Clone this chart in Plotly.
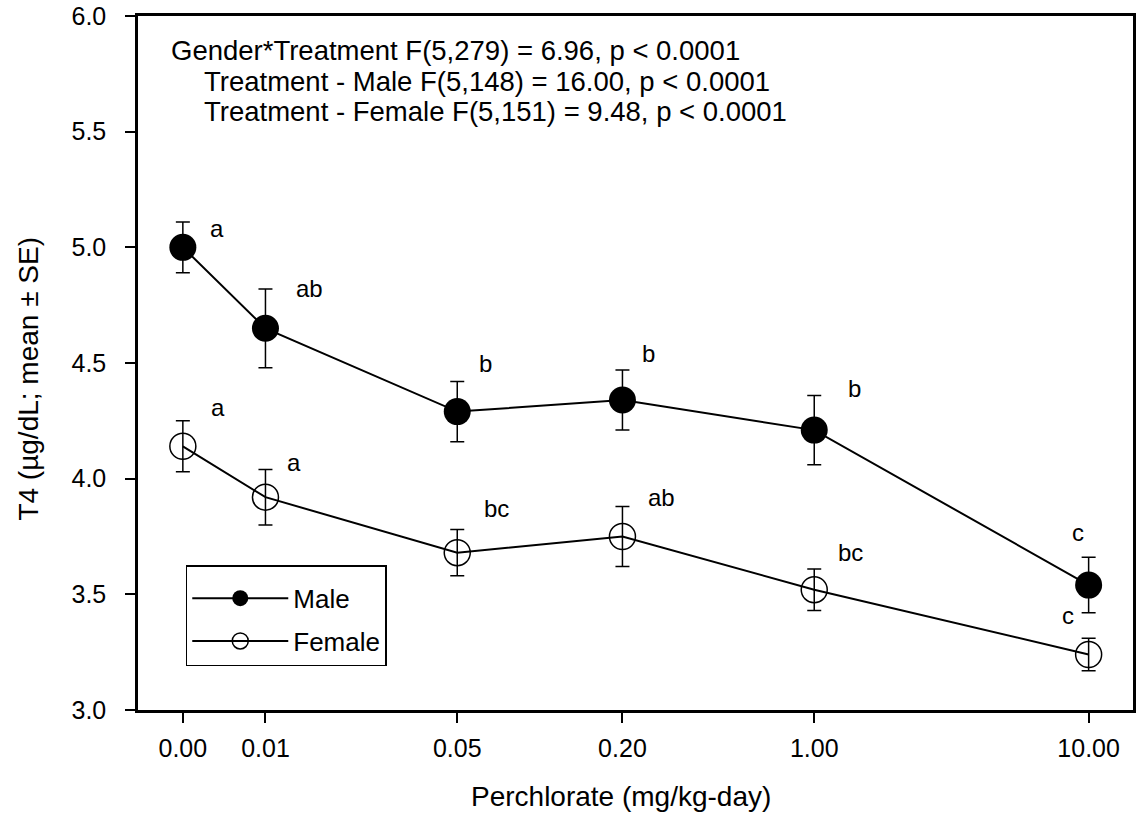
import numpy as np
import plotly.graph_objects as go

# ---- data ----
dose_labels = ["0.00", "0.01", "0.05", "0.20", "1.00", "10.00"]
# control (0.00) plotted at half the lowest dose on the log axis
dose_pos = [0.005, 0.01, 0.05, 0.2, 1.0, 10.0]

male_mean = [5.00, 4.65, 4.29, 4.34, 4.21, 3.54]
male_se = [0.11, 0.17, 0.13, 0.13, 0.15, 0.12]
female_mean = [4.14, 3.92, 3.68, 3.75, 3.52, 3.24]
female_se = [0.11, 0.12, 0.10, 0.13, 0.09, 0.07]

male_letters = ["a", "ab", "b", "b", "b", "c"]
female_letters = ["a", "a", "bc", "ab", "bc", "c"]

stats_lines = [
    "Gender*Treatment F(5,279) = 6.96, p < 0.0001",
    "Treatment - Male F(5,148) = 16.00, p < 0.0001",
    "Treatment - Female F(5,151) = 9.48, p < 0.0001",
]
x_title = "Perchlorate (mg/kg-day)"
y_title = "T4 (µg/dL; mean ± SE)"

# ---- style (pixel offsets of the letters from their points) ----
male_off = [(34, 19), (44, 40), (28, 48), (26, 47), (40, 42), (-11, 53)]
female_off = [(35, 39), (29, 35), (39, 44), (39, 39), (36, 37), (-21, 39)]

FONT = "Arial, Liberation Sans, sans-serif"

fig = go.Figure()
fig.add_trace(go.Scatter(
    x=dose_pos, y=male_mean, name="Male", mode="lines+markers", legendgroup="m",
    line=dict(color="black", width=2),
    marker=dict(symbol="circle", size=27, color="black"),
    error_y=dict(type="data", array=male_se, color="black", thickness=1.5, width=7),
))
fig.add_trace(go.Scatter(
    x=dose_pos, y=female_mean, name="Female", mode="lines+markers", legendgroup="f",
    line=dict(color="black", width=2),
    marker=dict(symbol="circle-open", size=26, color="black", line=dict(width=1.5, color="black")),
    error_y=dict(type="data", array=female_se, color="black", thickness=1.5, width=7),
))

annotations = []
for xs, ys, labs, offs in [(dose_pos, male_mean, male_letters, male_off),
                           (dose_pos, female_mean, female_letters, female_off)]:
    for xv, yv, lab, (dx, dy) in zip(xs, ys, labs, offs):
        annotations.append(dict(
            x=np.log10(xv), y=yv, xref="x", yref="y", text=lab, showarrow=False,
            xshift=dx, yshift=dy, font=dict(family=FONT, size=24, color="black"),
            xanchor="center", yanchor="middle"))

stat_pos = [(0.031, 0.951), (0.064, 0.905), (0.064, 0.862)]
for txt, (px, py) in zip(stats_lines, stat_pos):
    annotations.append(dict(
        x=px, y=py, xref="paper", yref="paper", text=txt, showarrow=False,
        xanchor="left", yanchor="middle",
        font=dict(family=FONT, size=27.5, color="black")))

annotations.append(dict(
    x=0.485, y=-0.125, xref="paper", yref="paper", text=x_title, showarrow=False,
    xanchor="center", yanchor="middle", font=dict(family=FONT, size=28, color="black")))
annotations.append(dict(
    x=-0.1102, y=0.478, xref="paper", yref="paper", text=y_title, showarrow=False,
    textangle=-90, xanchor="center", yanchor="middle",
    font=dict(family=FONT, size=28, color="black")))

fig.update_layout(
    width=1138, height=818,
    margin=dict(l=138, r=2, t=14, b=108),
    paper_bgcolor="white", plot_bgcolor="white",
    font=dict(family=FONT, color="black"),
    showlegend=True,
    legend=dict(
        x=0.048, y=0.2083, xanchor="left", yanchor="top",
        bgcolor="white", bordercolor="black", borderwidth=1.5,
        font=dict(family=FONT, size=26, color="black"),
        itemwidth=96, tracegroupgap=6,
        title=dict(text=" ", font=dict(size=6)),
    ),
    annotations=annotations,
)
fig.update_xaxes(
    type="log", range=[-2.4645, 1.1617],
    tickvals=dose_pos, ticktext=dose_labels,
    ticks="outside", ticklen=10, tickwidth=1.5, tickcolor="black",
    showline=True, linewidth=2.5, linecolor="black", mirror=True,
    showgrid=False, zeroline=False,
    tickfont=dict(family=FONT, size=25, color="black"),
    ticklabelstandoff=4,
)
fig.update_yaxes(
    range=[3, 6], tickvals=[3.0, 3.5, 4.0, 4.5, 5.0, 5.5, 6.0], tickformat=".1f",
    ticks="outside", ticklen=10, tickwidth=1.5, tickcolor="black",
    showline=True, linewidth=2.5, linecolor="black", mirror=True,
    showgrid=False, zeroline=False,
    tickfont=dict(family=FONT, size=25, color="black"),
    ticklabelstandoff=14, ticklabeloverflow="allow",
)

fig.write_html("out.html")
